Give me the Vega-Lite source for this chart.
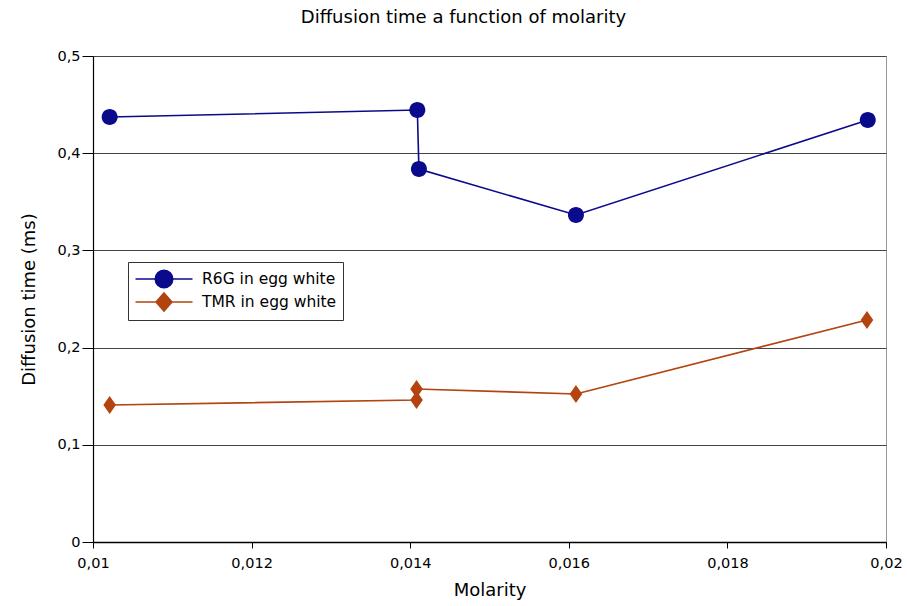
{
  "$schema": "https://vega.github.io/schema/vega-lite/v6.json",
  "autosize": {"type": "none"},
  "width": 793,
  "height": 486,
  "padding": {"left": 93, "top": 56, "right": 21, "bottom": 64},
  "background": "white",
  "title": {
    "text": "Diffusion time a function of molarity",
    "font": "DejaVu Sans",
    "fontSize": 18,
    "fontWeight": "normal",
    "color": "#000000",
    "anchor": "middle",
    "dx": -26,
    "offset": 21
  },
  "config": {
    "view": {"stroke": "#999999", "strokeWidth": 1},
    "font": "DejaVu Sans",
    "axis": {
      "labelFont": "DejaVu Sans",
      "titleFont": "DejaVu Sans",
      "labelFontSize": 14.5,
      "titleFontSize": 18,
      "titleFontWeight": "normal",
      "labelColor": "#000000",
      "titleColor": "#000000",
      "domainColor": "#000000",
      "tickColor": "#000000",
      "gridColor": "#444444",
      "gridOpacity": 1
    }
  },
  "data": {
    "values": [
      {"series": "R6G in egg white", "order": 1, "molarity": 0.01021, "time": 0.4372},
      {"series": "R6G in egg white", "order": 2, "molarity": 0.01409, "time": 0.4444},
      {"series": "R6G in egg white", "order": 3, "molarity": 0.01411, "time": 0.3837},
      {"series": "R6G in egg white", "order": 4, "molarity": 0.01609, "time": 0.3364},
      {"series": "R6G in egg white", "order": 5, "molarity": 0.01977, "time": 0.4342},
      {"series": "TMR in egg white", "order": 1, "molarity": 0.01021, "time": 0.141},
      {"series": "TMR in egg white", "order": 2, "molarity": 0.01408, "time": 0.1461},
      {"series": "TMR in egg white", "order": 3, "molarity": 0.01408, "time": 0.1574},
      {"series": "TMR in egg white", "order": 4, "molarity": 0.01609, "time": 0.1523},
      {"series": "TMR in egg white", "order": 5, "molarity": 0.01976, "time": 0.2284}
    ]
  },
  "encoding": {
    "x": {
      "field": "molarity",
      "type": "quantitative",
      "scale": {"domain": [0.01, 0.02], "nice": false, "zero": false},
      "axis": {
        "title": "Molarity",
        "values": [0.01, 0.012, 0.014, 0.016, 0.018, 0.02],
        "labelExpr": "replace(format(datum.value, '~g'), '.', ',')",
        "grid": false,
        "tickSize": 6,
        "labelPadding": 8,
        "titlePadding": 12,
        "domainWidth": 1.5,
        "labelFlush": false
      }
    },
    "y": {
      "field": "time",
      "type": "quantitative",
      "scale": {"domain": [0, 0.5], "nice": false},
      "axis": {
        "title": "Diffusion time (ms)",
        "values": [0, 0.1, 0.2, 0.3, 0.4, 0.5],
        "labelExpr": "replace(format(datum.value, '~g'), '.', ',')",
        "grid": true,
        "tickSize": 11,
        "labelPadding": 2,
        "titlePadding": 18,
        "domainWidth": 1.2
      }
    },
    "color": {
      "field": "series",
      "type": "nominal",
      "scale": {"domain": ["R6G in egg white", "TMR in egg white"], "range": ["#0a0a8c", "#b3430f"]},
      "legend": {
        "title": null,
        "orient": "none",
        "legendX": 35,
        "legendY": 206,
        "fillColor": "white",
        "strokeColor": "#333333",
        "padding": 6,
        "symbolSize": 400,
        "symbolOffset": 19,
        "symbolType": "M-2.85,0H-0.88M0.88,0H2.85M0.88,0A0.88,0.88 0 1,0 -0.88,0A0.88,0.88 0 1,0 0.88,0Z",
        "symbolStrokeWidth": 1.5,
        "symbolOpacity": 1,
        "labelFont": "DejaVu Sans",
        "labelFontSize": 15.5,
        "labelColor": "#000000",
        "labelOffset": 27,
        "rowPadding": -4,
        "encode": {
          "symbols": {
            "update": {
              "shape": {"signal": "datum.value === 'R6G in egg white' ? 'M-2.85,0H-0.88M0.88,0H2.85M0.88,0A0.88,0.88 0 1,0 -0.88,0A0.88,0.88 0 1,0 0.88,0Z' : 'M-2.85,0H-0.8M0.8,0H2.85M0,-0.9L0.8,0L0,0.9L-0.8,0Z'"},
              "fill": {"signal": "datum.value === 'R6G in egg white' ? '#0a0a8c' : '#b3430f'"},
              "stroke": {"signal": "datum.value === 'R6G in egg white' ? '#0a0a8c' : '#b3430f'"}
            }
          }
        }
      }
    }
  },
  "layer": [
    {
      "mark": {"type": "line", "strokeWidth": 1.6},
      "encoding": {"order": {"field": "order", "type": "quantitative"}}
    },
    {
      "transform": [{"filter": "datum.series === 'R6G in egg white'"}],
      "mark": {"type": "point", "filled": true, "opacity": 1, "size": 256, "shape": "M1,0A1,1 0 1,0 -1,0A1,1 0 1,0 1,0Z"}
    },
    {
      "transform": [{"filter": "datum.series === 'TMR in egg white'"}],
      "mark": {"type": "point", "filled": true, "opacity": 1, "size": 324, "shape": "M0,-1L0.7,0L0,1L-0.7,0Z"}
    }
  ]
}
